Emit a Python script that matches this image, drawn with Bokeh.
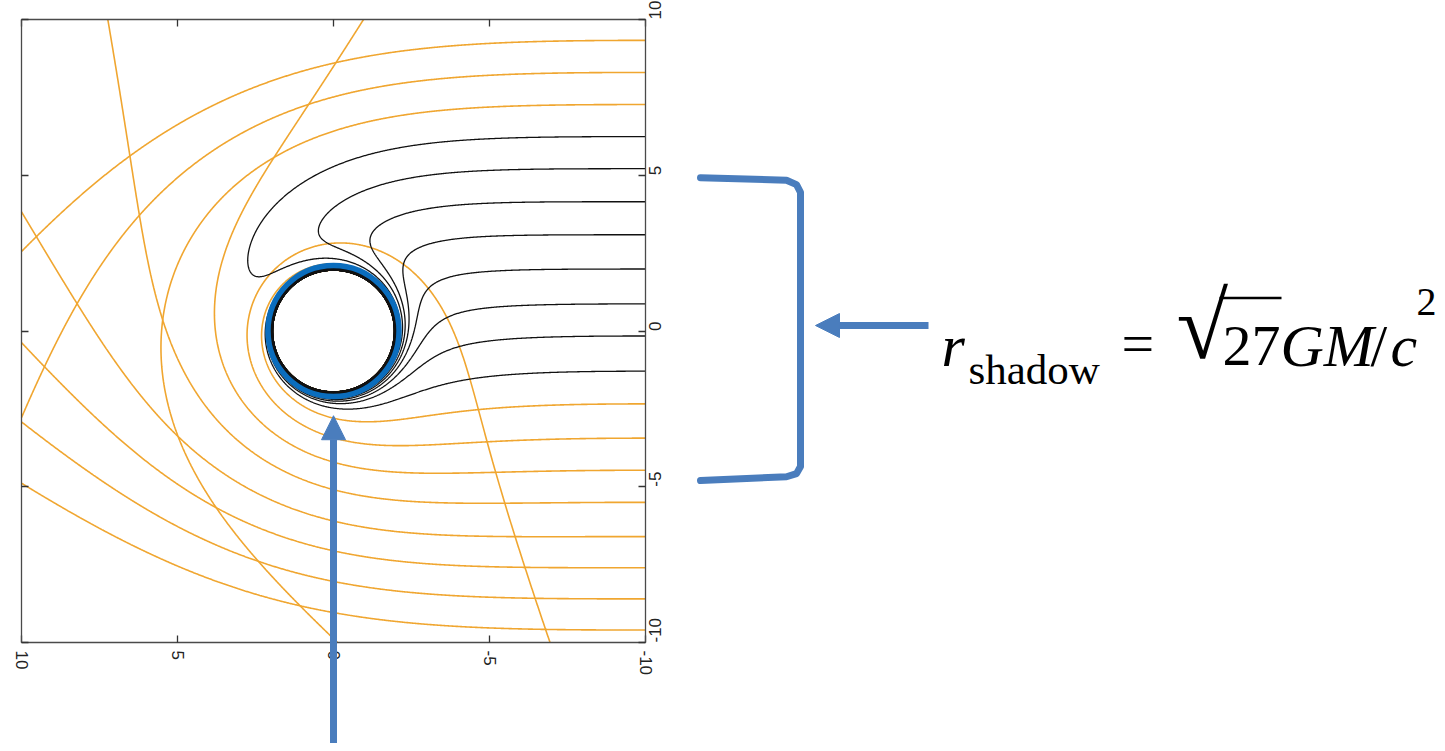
import numpy as np
from bokeh.plotting import figure
from bokeh.models import (Range1d, LinearAxis, FixedTicker, Label, Arrow,
                          NormalHead, PolyAnnotation)
from bokeh.embed import file_html
from bokeh.resources import INLINE

# ---------------- data ----------------
SPIN = 0.998            # a / M of the hole
MASS = 0.94             # M in plot units
RADIAL_SHIFT = 0.95     # plotted radius = M * r_BL + shift
ENTRY_X = -10.0         # rays enter horizontally at the right edge
captured_entry_y = [6.24, 5.21, 4.15, 3.09, 1.99, 0.87, -0.16, -1.29]
escaping_entry_y = [9.33, 8.30, 7.27, -2.34, -3.44, -4.47, -5.50,
                    -6.60, -7.60, -8.60, -9.60]
ring_radius = 2.1
shadow_top = 4.9
shadow_bottom = -4.7
axis_ticks = [-10, -5, 0, 5, 10]
tick_text = {-10: "-10", -5: "-5", 0: "0", 5: "5", 10: "10"}
BOX = 10.0

# ---------------- null geodesics (equatorial Kerr, units of M) ----------------
a = SPIN
r_plus = 1.0 + np.sqrt(1.0 - a * a)


def ginv(r):
    D = r * r - 2 * r + a * a
    grr = D / (r * r)
    gtt = -((r * r + a * a) ** 2 - a * a * D) / (r * r * D)
    gtp = -2 * a / (r * D)
    gpp = (D - a * a) / (r * r * D)
    return grr, gtt, gtp, gpp


def rhs(r, pr, b):
    D = r * r - 2 * r + a * a
    Dp = 2 * r - 2
    P = r * r + a * a - a * b
    r2 = r * r
    drl = D * pr / r2
    dphil = (a * P / D + (b - a)) / r2
    N = D * pr * pr - P * P / D + (b - a) ** 2
    dN = Dp * pr * pr - 4 * r * P / D + P * P * Dp / (D * D)
    dprl = -(dN / (2 * r2) - N / (r2 * r))
    return drl, dphil, dprl


def plot_radius(r):
    return MASS * r + RADIAL_SHIFT


def trace(x0, y0, ang, ds=0.025, nmax=30000):
    x0 = np.asarray(x0, float)
    y0 = np.asarray(y0, float)
    ang = np.asarray(ang, float)
    R0 = np.hypot(x0, y0)
    phi = np.arctan2(y0, x0)
    r = (R0 - RADIAL_SHIFT) / MASS
    vr = np.cos(ang) * np.cos(phi) + np.sin(ang) * np.sin(phi)
    vt = -np.cos(ang) * np.sin(phi) + np.sin(ang) * np.cos(phi)
    grr, gtt, gtp, gpp = ginv(r)
    w = MASS * vt / R0
    q = np.sqrt((gtp ** 2 / gpp - gtt) / (vr ** 2 / grr + w ** 2 / gpp))
    b = (q * w + gtp) / gpp
    pr = q * vr / grr
    n = len(r)
    pos = np.full((nmax + 1, n, 2), np.nan)
    pos[0, :, 0] = x0
    pos[0, :, 1] = y0
    alive = np.ones(n, bool)
    for it in range(1, nmax + 1):
        idx = np.where(alive)[0]
        if idx.size == 0:
            break
        rr, ff, pp, bb = r[idx], phi[idx], pr[idx], b[idx]
        k1 = rhs(rr, pp, bb)
        speed = np.sqrt((MASS * k1[0]) ** 2 + (plot_radius(rr) * k1[1]) ** 2)
        h = ds / speed
        k2 = rhs(rr + 0.5 * h * k1[0], pp + 0.5 * h * k1[2], bb)
        k3 = rhs(rr + 0.5 * h * k2[0], pp + 0.5 * h * k2[2], bb)
        k4 = rhs(rr + h * k3[0], pp + h * k3[2], bb)
        rn = rr + h / 6 * (k1[0] + 2 * k2[0] + 2 * k3[0] + k4[0])
        fn = ff + h / 6 * (k1[1] + 2 * k2[1] + 2 * k3[1] + k4[1])
        pn = pp + h / 6 * (k1[2] + 2 * k2[2] + 2 * k3[2] + k4[2])
        bad = ~np.isfinite(rn) | (rn < r_plus + 2e-3)
        good = ~bad
        gi = idx[good]
        r[gi], phi[gi], pr[gi] = rn[good], fn[good], pn[good]
        Rg = plot_radius(r[gi])
        pos[it, gi, 0] = Rg * np.cos(phi[gi])
        pos[it, gi, 1] = Rg * np.sin(phi[gi])
        alive[idx[bad]] = False
        alive[gi[Rg > 15.5]] = False
    out = []
    for k in range(n):
        ok = np.isfinite(pos[:, k, 0])
        out.append((pos[ok, k, 0], pos[ok, k, 1]))
    return out


def edge_point(xi, yi, xo, yo, lim=BOX):
    t = 1.0
    dxv, dyv = xo - xi, yo - yi
    if xo > lim:
        t = min(t, (lim - xi) / dxv)
    if xo < -lim:
        t = min(t, (-lim - xi) / dxv)
    if yo > lim:
        t = min(t, (lim - yi) / dyv)
    if yo < -lim:
        t = min(t, (-lim - yi) / dyv)
    return xi + t * dxv, yi + t * dyv


def clip_to_box(x, y, lim=BOX):
    inside = (np.abs(x) <= lim) & (np.abs(y) <= lim)
    segs = []
    cx, cy = None, None
    for i in range(len(x)):
        if inside[i]:
            if cx is None:
                cx, cy = [], []
                if i > 0:
                    ex, ey = edge_point(x[i], y[i], x[i - 1], y[i - 1], lim)
                    cx.append(ex)
                    cy.append(ey)
            cx.append(float(x[i]))
            cy.append(float(y[i]))
        elif cx is not None:
            ex, ey = edge_point(x[i - 1], y[i - 1], x[i], y[i], lim)
            cx.append(ex)
            cy.append(ey)
            segs.append((cx, cy))
            cx, cy = None, None
    if cx is not None and len(cx) > 1:
        segs.append((cx, cy))
    return segs


def curves(paths):
    xs, ys = [], []
    for x, y in paths:
        for sx_, sy_ in clip_to_box(x, y):
            xs.append(sx_)
            ys.append(sy_)
    return xs, ys


black = trace([ENTRY_X] * len(captured_entry_y), captured_entry_y,
              [0.0] * len(captured_entry_y))
orange = trace([ENTRY_X] * len(escaping_entry_y), escaping_entry_y,
               [0.0] * len(escaping_entry_y))

# ---------------- figure: frame = whole canvas ----------------
CW, CH = 1437, 743                # canvas size
BOX_L, BOX_T, BOX_W, BOX_H = 21, 19, 624, 623   # data box inside canvas
sx = 2 * BOX / BOX_W
sy = 2 * BOX / BOX_H
x_lo = BOX + BOX_L * sx
x_hi = BOX - (CW - BOX_L) * sx
y_hi = BOX + BOX_T * sy
y_lo = BOX - (CH - BOX_T) * sy

p = figure(x_range=Range1d(x_lo, x_hi), y_range=Range1d(y_lo, y_hi),
           frame_width=CW, frame_height=CH, min_border=0,
           x_axis_location=None, y_axis_location=None,
           output_backend="svg", toolbar_location=None,
           background_fill_color="white", border_fill_color="white")
p.grid.visible = False
p.outline_line_color = None

FRAME = "#4a4a4a"


def make_axis(fixed, side):
    ax = LinearAxis(fixed_location=fixed, bounds=(-BOX, BOX))
    ax.ticker = FixedTicker(ticks=axis_ticks, minor_ticks=[])
    ax.axis_line_color = FRAME
    ax.axis_line_width = 1.3
    ax.major_tick_in = 7
    ax.major_tick_out = 0
    ax.minor_tick_in = 0
    ax.minor_tick_out = 0
    ax.major_tick_line_color = "#333333"
    ax.major_tick_line_width = 1.3
    ax.major_label_text_font = "Liberation Sans"
    ax.major_label_text_font_size = "17px"
    ax.major_label_text_color = "#222222"
    p.add_layout(ax, side)
    return ax


bottom = make_axis(-BOX, "below")
bottom.major_label_overrides = tick_text
bottom.major_label_orientation = -np.pi / 2
bottom.major_label_standoff = 8
right = make_axis(-BOX, "right")
right.major_label_overrides = tick_text
right.major_label_orientation = np.pi / 2
right.major_label_standoff = 9
top = make_axis(BOX, "above")
top.major_label_overrides = {t: "" for t in axis_ticks}
left = make_axis(BOX, "left")
left.major_label_overrides = {t: "" for t in axis_ticks}

ORANGE = "#f0a630"
ox, oy = curves(orange)
p.multi_line(ox, oy, line_color=ORANGE, line_width=1.6)
bx_, by_ = curves(black)
p.multi_line(bx_, by_, line_color="#111111", line_width=1.3)
p.circle(x=[0], y=[0], radius=ring_radius, fill_color=None,
         line_color="#0b6dbd", line_width=5.5)


# ---------------- annotations (canvas pixels -> data units) ----------------
def dx(px):
    return BOX - (px - BOX_L) * sx


def dy(py):
    return BOX - (py - BOX_T) * sy


BLUE = "#4a7dbd"
p.add_layout(Arrow(x_start=0, y_start=y_lo, x_end=0, y_end=-ring_radius - 0.62,
                   line_color=BLUE, line_width=7,
                   end=NormalHead(size=24, fill_color=BLUE, line_color=BLUE)))

# bracket spanning the shadow
xa, xm, xb = dx(700), dx(786), dx(800)
bx = [xa, xm, dx(796), xb, xb, dx(796), xm, xa]
by = [shadow_top + 0.02, shadow_top - 0.06, shadow_top - 0.2, shadow_top - 0.45,
      shadow_bottom + 0.35, shadow_bottom + 0.12, shadow_bottom + 0.02,
      shadow_bottom - 0.1]
p.add_layout(PolyAnnotation(xs=bx + bx[::-1], ys=by + by[::-1], line_color=BLUE,
                            line_alpha=1.0, line_width=7, line_join="round",
                            fill_alpha=0, fill_color=None))

p.add_layout(Arrow(x_start=dx(928), y_start=dy(325), x_end=dx(815), y_end=dy(325),
                   line_color=BLUE, line_width=7,
                   end=NormalHead(size=24, fill_color=BLUE, line_color=BLUE)))

SERIF = "Liberation Serif"
BASE = 345


def lab(px, py, text, size, style="normal"):
    p.add_layout(Label(x=dx(px), y=dy(py), text=text, text_font=SERIF,
                       text_font_size=size, text_font_style=style,
                       text_color="black", text_align="left",
                       text_baseline="alphabetic"))


lab(941, BASE, "r", "60px", "italic")
lab(968, BASE + 24, "shadow", "43px")
lab(1121, BASE - 2, "=", "58px")
lab(1176, 325, "√", "94px")
lab(1222, BASE, "27", "58px")
p.add_layout(Arrow(x_start=dx(1219), y_start=dy(297.5), x_end=dx(1281), y_end=dy(297.5),
                   line_color="black", line_width=2.5, end=None))
lab(1280, BASE, "GM", "60px", "italic")
lab(1370, BASE, "/", "60px")
lab(1390, BASE, "c", "60px", "italic")
lab(1416, BASE - 44, "2", "40px")

open("out.html", "w").write(file_html(p, INLINE))
